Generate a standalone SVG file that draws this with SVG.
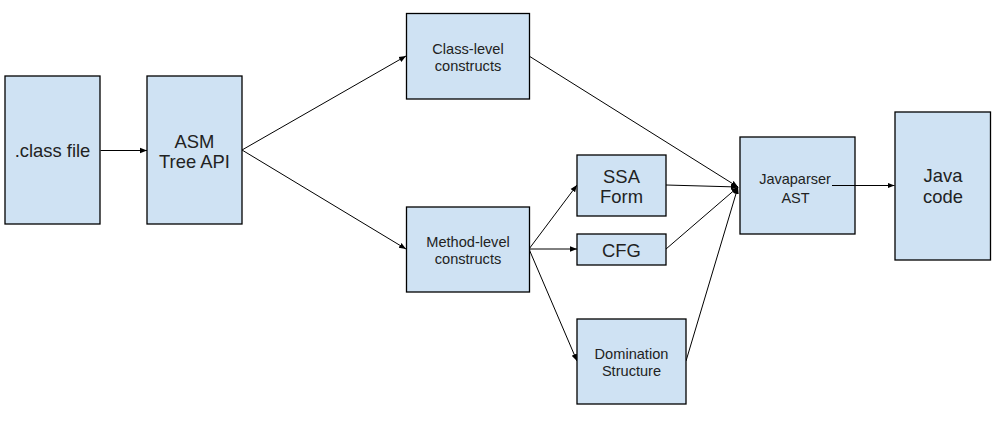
<svg xmlns="http://www.w3.org/2000/svg" width="1002" height="422" viewBox="0 0 1002 422">
<defs>
<marker id="ah" viewBox="0 0 10 10" refX="10" refY="5" markerWidth="7" markerHeight="7" markerUnits="userSpaceOnUse" orient="auto">
<path d="M0,1 L10,5 L0,9 Z" fill="#000"/>
</marker>
<style>
.box{fill:#cfe2f3;stroke:#000;stroke-width:1.3}
.t{font-family:"Liberation Sans",Arial,sans-serif;fill:#222;text-anchor:middle}
.l{font-size:18.4px}
.s{font-size:14.6px}
.m{font-size:14.5px}
.c{fill:none;stroke:#000;stroke-width:1;marker-end:url(#ah)}
</style>
</defs>
<rect width="1002" height="422" fill="#fff"/>
<g id="connectors">
<path class="c" d="M100.5,150.5 L147,150.5"/>
<path class="c" d="M242,150 L406,56"/>
<path class="c" d="M242,150 L406,249"/>
<path class="c" d="M529,56 L738,187"/>
<path class="c" d="M529,249 L577,185"/>
<path class="c" d="M529,249 L577,249"/>
<path class="c" d="M529,249 L577,361"/>
<path class="c" d="M666,185 L738,187"/>
<path class="c" d="M666,249 L738,187"/>
<path class="c" d="M686,361 L738,187"/>
</g>
<g id="n-class-file"><rect class="box" x="5" y="76" width="95" height="148"/><text class="t l" x="52.5" y="157">.class file</text></g>
<g id="n-asm"><rect class="box" x="147" y="76" width="95" height="148"/><text class="t l" x="194.5" y="147.7">ASM</text><text class="t l" x="194.5" y="168.3">Tree API</text></g>
<g id="n-class-level"><rect class="box" x="406.5" y="13.5" width="123" height="85.5"/><text class="t s" x="468" y="54">Class-level</text><text class="t s" x="468" y="70.7">constructs</text></g>
<g id="n-method-level"><rect class="box" x="406.5" y="207" width="123" height="85"/><text class="t s" x="468" y="246.7">Method-level</text><text class="t s" x="468" y="264">constructs</text></g>
<g id="n-ssa"><rect class="box" x="577" y="155" width="89" height="61"/><text class="t l" x="621.5" y="182.7">SSA</text><text class="t l" x="621.5" y="203.3">Form</text></g>
<g id="n-cfg"><rect class="box" x="577" y="234" width="89" height="31"/><text class="t l" x="621.5" y="256.6">CFG</text></g>
<g id="n-domination"><rect class="box" x="577" y="319" width="109" height="85"/><text class="t s" x="631.5" y="359">Domination</text><text class="t s" x="631.5" y="376">Structure</text></g>
<g id="n-javaparser"><rect class="box" x="740" y="137" width="115" height="97"/><text class="t m" x="795" y="184">Javaparser</text><text class="t m" x="795.5" y="202.7">AST</text></g>
<g id="n-java-code"><rect class="box" x="895" y="112" width="95.5" height="148"/><text class="t l" x="943" y="182">Java</text><text class="t l" x="943" y="202.5">code</text></g>
<g id="connectors-top">
<path class="c" d="M832,185.5 L894.5,185.5"/>
</g>
</svg>
